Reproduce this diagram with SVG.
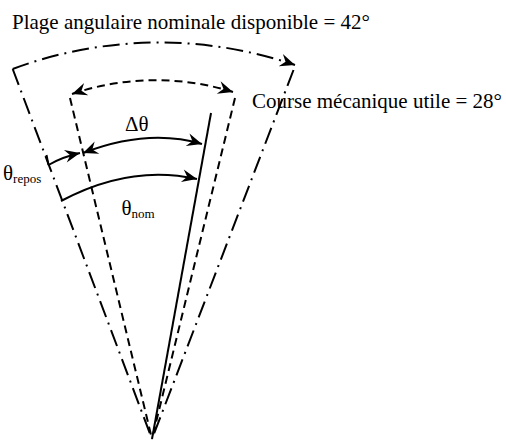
<svg xmlns="http://www.w3.org/2000/svg" width="506" height="441" viewBox="0 0 506 441">
<style>
.ln{fill:none;stroke:#000;stroke-width:2;stroke-linecap:butt}
.dd{stroke-dasharray:17 6 2 6}
.ds{stroke-dasharray:8 5}
text{font-family:"Liberation Serif","Times New Roman",serif;font-size:21px;fill:#000}
.sub{font-size:13px}
</style>
<defs>
<marker id="ah" markerUnits="userSpaceOnUse" viewBox="-16 -7 17 14" markerWidth="17" markerHeight="14" refX="0" refY="0" orient="auto-start-reverse">
<path d="M0,0 L-15,-6.5 L-10,0 L-15,6.5 Z" fill="#000"/>
</marker>
</defs>
<rect width="506" height="441" fill="#fff"/>
<g id="connectors">
<path id="outer-left" class="ln dd" d="M12.7,69 L152,439"/>
<path id="outer-right" class="ln dd" d="M293.5,70 L152,439"/>
<path id="inner-left" class="ln ds" d="M70,98 L152,439"/>
<path id="inner-right" class="ln ds" d="M235,98 L152,439"/>
<path id="nominal-line" class="ln" d="M211,113 L152,439"/>
<path id="arc-plage" class="ln dd" d="M12.7,69 A420,420 0 0 1 295,65" marker-end="url(#ah)"/>
<path id="arc-course" class="ln ds" d="M72,94 A260,260 0 0 1 233,92" marker-start="url(#ah)" marker-end="url(#ah)"/>
<path id="tick-repos" class="ln" d="M48.5,165 L46.5,155"/>
<path id="arc-repos" class="ln" d="M48.5,165 Q62,157 80,153" marker-end="url(#ah)"/>
<path id="arc-delta" class="ln" d="M83,153 Q148,128 202,144" marker-start="url(#ah)" marker-end="url(#ah)"/>
<path id="arc-nom" class="ln" d="M61,201 Q130,164 197,179" marker-end="url(#ah)"/>
</g>
<g id="label-plage"><text x="12" y="29">Plage angulaire nominale disponible = 42°</text></g>
<g id="label-course"><text x="252" y="108">Course mécanique utile = 28°</text></g>
<g id="label-repos"><text x="3" y="180">θ<tspan class="sub" dy="3">repos</tspan></text></g>
<g id="label-delta"><text x="125" y="131">Δθ</text></g>
<g id="label-nom"><text x="121.5" y="215">θ<tspan class="sub" dy="3">nom</tspan></text></g>
</svg>
